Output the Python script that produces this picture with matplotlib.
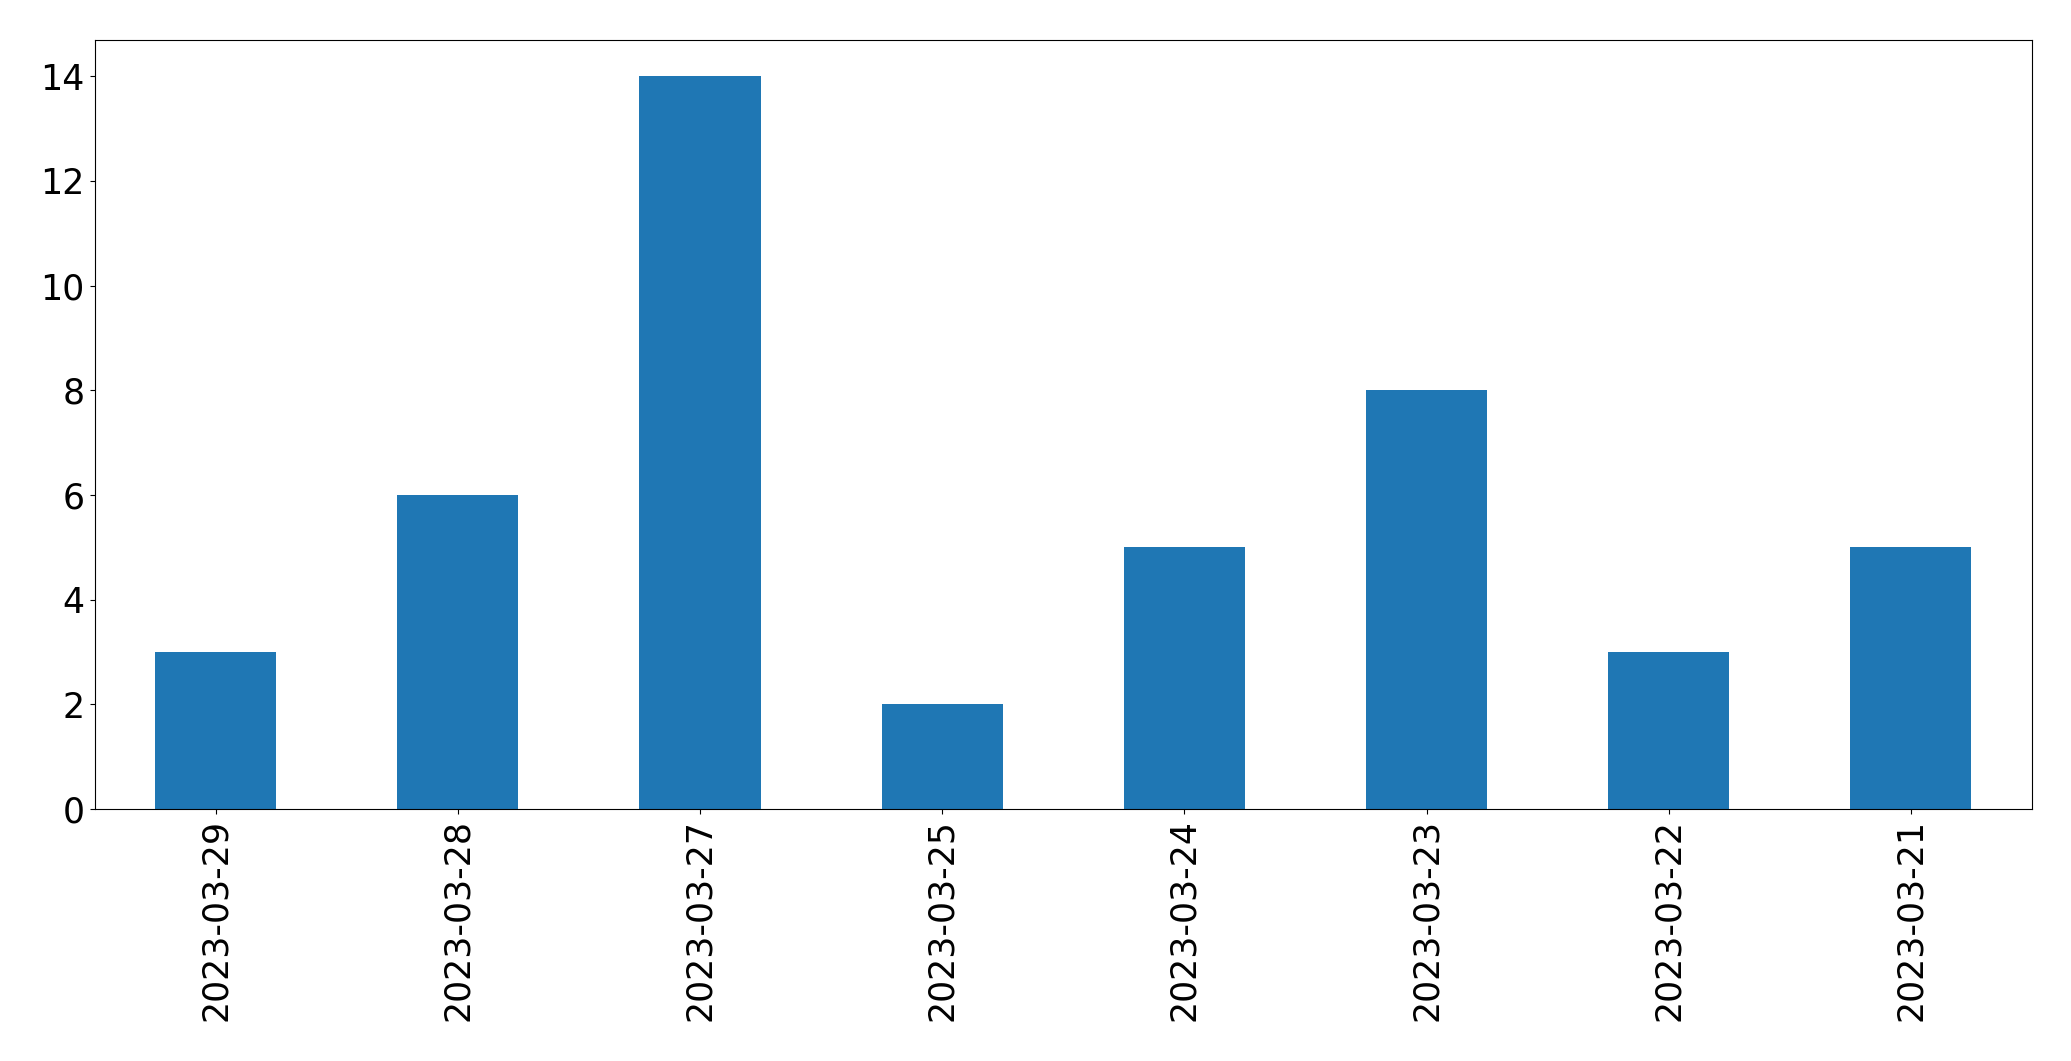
import matplotlib
matplotlib.use("Agg")
import matplotlib.pyplot as plt

dates = ["2023-03-29", "2023-03-28", "2023-03-27", "2023-03-25",
         "2023-03-24", "2023-03-23", "2023-03-22", "2023-03-21"]
counts = [3, 6, 14, 2, 5, 8, 3, 5]

fig = plt.figure(figsize=(20.71, 10.61), dpi=100)
ax = fig.add_axes([94.5/2071, 1 - 809/1061, (2032-94.5)/2071, (809-39.5)/1061])
x = list(range(len(dates)))
ax.bar(x, counts, width=0.5, color="#1f77b4")
ax.set_xlim(-0.5, len(dates) - 0.5)
ax.set_ylim(0, 14.7)
ax.set_xticks(x)
ax.set_xticklabels(dates, rotation=90, fontsize=25)
ax.set_yticks(range(0, 15, 2))
ax.tick_params(axis="y", labelsize=25)
fig.savefig("out.png", dpi=100)
